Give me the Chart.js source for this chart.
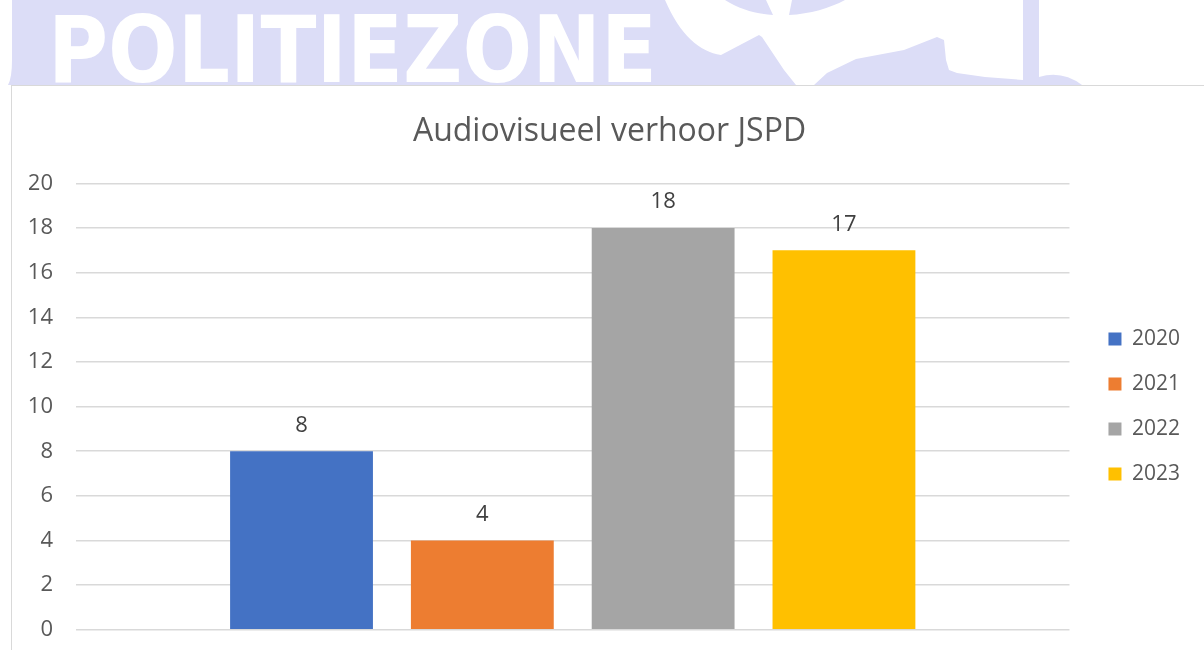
<!DOCTYPE html>
<html>
<head>
<meta charset="utf-8">
<script src="https://cdn.jsdelivr.net/npm/chart.js@4/dist/chart.umd.min.js"></script>
<style>
  body { margin: 0; background: #fff; width: 1204px; height: 650px; overflow: hidden; position: relative; }
  #banner { position: absolute; left: 0; top: 0; }
  #box { position: absolute; left: 11px; top: 85px; width: 1193px; height: 600px;
         border-left: 1px solid #d9d9d9; border-top: 1px solid #d9d9d9; background: #fff; }
  #grafico { position: absolute; left: 0; top: 0; }
</style>
</head>
<body>
<svg id="banner" width="1204" height="85" viewBox="0 0 1204 85">
  <path d="M12,0 L1039,0 L1039,85 L8,85 Q12,78 12,60 Z" fill="#dcddf7"/>
  <path d="M1039,85 L1039,77 Q1062,70 1082,85 Z" fill="#dcddf7"/>
  <path d="M665,0 L725,0 C740,10 758,14 773,15 L766,0 L792,0 L789,15 C810,14 830,8 845,0 L1023,0 L1023,80
           L985,77 L957,73 L949,70 L946,60 L944,40 L937,37 L904,50 L856,59 L827,73 L814,85 L796,85
           L784,70 L762,37 L759,35 L721,55 C700,52 680,35 665,0 Z" fill="#fff"/>
  <text x="48" y="82" textLength="609" lengthAdjust="spacingAndGlyphs"
        font-family="DejaVu Sans" font-weight="bold" font-size="92" fill="#fff">POLITIEZONE</text>
</svg>
<div id="box">
  <canvas id="grafico" width="1192" height="580"></canvas>
</div>
<script>
const categorias = [''];
const anios = ['2020', '2021', '2022', '2023'];
const valores = [8, 4, 18, 17];
const colores = ['#4472c4', '#ed7d31', '#a5a5a5', '#ffc000'];
const titulo = 'Audiovisueel verhoor JSPD';

const ctx = document.getElementById('grafico').getContext('2d');
Chart.defaults.font.family = '"Open Sans", "Noto Sans", sans-serif';
Chart.defaults.color = '#595959';

// etiquetas encima de cada barra
const etiquetas = {
    id: 'etiquetas',
    afterDatasetsDraw(chart) {
        const c = chart.ctx;
        c.save();
        c.font = '22px "Open Sans", sans-serif';
        c.fillStyle = '#404040';
        c.textAlign = 'center';
        c.textBaseline = 'middle';
        chart.data.datasets.forEach((ds, i) => {
            chart.getDatasetMeta(i).data.forEach((bar, j) => {
                c.fillText(ds.data[j], bar.x, bar.y - 26);
            });
        });
        c.restore();
    }
};

const datasets = anios.map((a, i) => ({
    label: a,
    data: [valores[i]],
    backgroundColor: colores[i],
    borderWidth: 0,
    categoryPercentage: 0.728,
    barPercentage: 0.79
}));

new Chart(ctx, {
    type: 'bar',
    data: { labels: categorias, datasets: datasets },
    options: {
        responsive: false,
        animation: false,
        devicePixelRatio: 1,
        layout: { padding: { left: 17, right: 14, bottom: 4, top: 0 } },
        plugins: {
            title: {
                display: true,
                text: titulo,
                color: '#595959',
                font: { size: 32, weight: 'normal' },
                padding: { top: 27, bottom: 32 }
            },
            legend: {
                position: 'right',
                fullSize: false,
                labels: {
                    boxWidth: 13,
                    boxHeight: 13,
                    padding: 24,
                    color: '#595959',
                    font: { size: 21 }
                }
            },
            tooltip: { enabled: false }
        },
        scales: {
            x: { display: false },
            y: {
                min: 0,
                max: 20,
                ticks: { stepSize: 2, padding: 23, color: '#595959', font: { size: 22 } },
                grid: { color: '#d9d9d9', lineWidth: 1.5, drawTicks: false },
                border: { display: false },
                afterFit: (s) => { s.width = 47; }
            },
            yR: {
                position: 'right',
                display: true,
                ticks: { display: false },
                grid: { display: false, drawTicks: false },
                border: { display: false },
                afterFit: (s) => { s.width = 15; }
            }
        }
    },
    plugins: [etiquetas]
});
</script>
</body>
</html>
